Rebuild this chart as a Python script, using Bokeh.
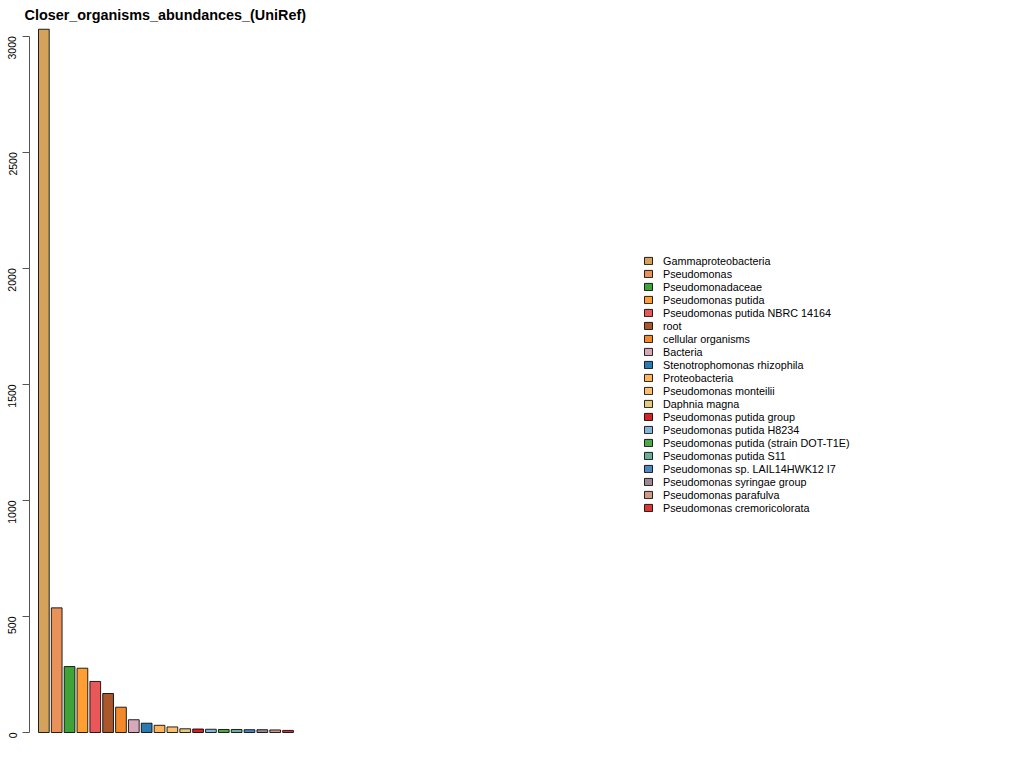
import math
from bokeh.plotting import figure
from bokeh.models import ColumnDataSource, FixedTicker, Legend, LegendItem, Range1d
from bokeh.embed import file_html
from bokeh.resources import INLINE

organisms = [
    "Gammaproteobacteria", "Pseudomonas", "Pseudomonadaceae", "Pseudomonas putida",
    "Pseudomonas putida NBRC 14164", "root", "cellular organisms", "Bacteria",
    "Stenotrophomonas rhizophila", "Proteobacteria", "Pseudomonas monteilii",
    "Daphnia magna", "Pseudomonas putida group", "Pseudomonas putida H8234",
    "Pseudomonas putida (strain DOT-T1E)", "Pseudomonas putida S11",
    "Pseudomonas sp. LAIL14HWK12 I7", "Pseudomonas syringae group",
    "Pseudomonas parafulva", "Pseudomonas cremoricolorata",
]
abundances = [3030, 537, 284, 277, 220, 168, 109, 55, 40, 31, 24, 16, 15, 14, 13, 13, 12, 12, 11, 9]
colors = [
    "#D4A25A", "#E8925A", "#3FA33A", "#FF9E33", "#E85858", "#A9572B", "#F28A2B",
    "#D6A8BA", "#2C7BB0", "#FDB45C", "#FDBE6E", "#E3CA7E", "#D62222", "#86B5D8",
    "#4DAA4A", "#6DAE9B", "#4A88BE", "#9E8895", "#CF9A88", "#DE3434",
]
y_ticks = [0, 500, 1000, 1500, 2000, 2500, 3000]
title_text = "Closer_organisms_abundances_(UniRef)"

# R barplot style positions: width 1, space 0.2
xpos = [0.7 + 1.2 * i for i in range(len(abundances))]

src = ColumnDataSource(dict(x=xpos, top=abundances, color=colors, name=organisms))

FL, FT, FB, FR = 29, 22, 22, 14
W, H = 1024, 768
frame_w = W - FL - FR
frame_h = H - FT - FB
px_x = 10.71
px_y = 0.2321
x0 = 0.2 - (38 - FL) / px_x
y0 = -((H - FB) - 732) / px_y

p = figure(width=W, height=H, output_backend="svg", toolbar_location=None,
           x_range=Range1d(x0, x0 + frame_w / px_x),
           y_range=Range1d(y0, y0 + frame_h / px_y),
           min_border_left=FL, min_border_right=FR, min_border_top=FT, min_border_bottom=FB,
           x_axis_location=None, title=title_text)
p.outline_line_color = None
p.grid.visible = False
p.background_fill_color = "white"
p.border_fill_color = "white"

p.title.text_font = "Liberation Sans"
p.title.text_font_style = "bold"
p.title.text_font_size = "14.4px"
p.title.text_color = "black"
p.title.align = "left"
p.title.offset = 24 - FL
p.title.standoff = 0

r = p.vbar(x="x", top="top", bottom=0, width=1.0, source=src,
           fill_color="color", line_color="black", line_width=1, line_alpha=0.85)

yax = p.yaxis[0]
yax.ticker = FixedTicker(ticks=y_ticks)
yax.bounds = (0, 3000)
yax.major_label_orientation = math.pi / 2
yax.major_tick_in = 0
yax.major_tick_out = 7
yax.minor_tick_line_color = None
yax.axis_line_color = "#555555"
yax.major_tick_line_color = "#555555"
yax.major_label_text_font = "Liberation Sans"
yax.major_label_text_font_size = "10.5px"
yax.major_label_text_color = "black"
yax.major_label_standoff = 10

items = [LegendItem(label=organisms[i], renderers=[r], index=i) for i in range(len(organisms))]
legend = Legend(items=items, location=(643 - FL, 232), padding=0, margin=0,
                spacing=0, glyph_width=10, glyph_height=9, label_height=13,
                label_standoff=10, label_text_font="Liberation Sans",
                label_text_font_size="10.8px", label_text_color="black",
                border_line_color=None, background_fill_alpha=0)
p.add_layout(legend)

open("out.html", "w").write(file_html(p, INLINE))
